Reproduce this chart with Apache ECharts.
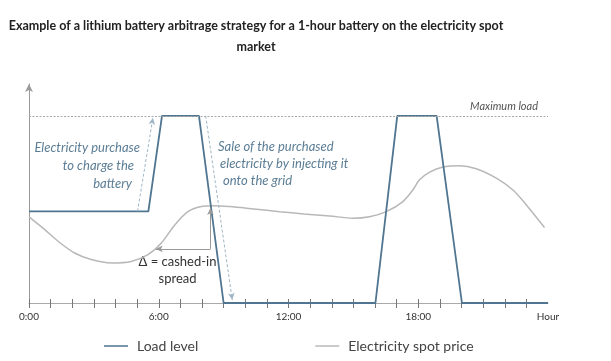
<!DOCTYPE html>
<html><head><meta charset="utf-8">
<script src="https://cdn.jsdelivr.net/npm/echarts@6/dist/echarts.min.js"></script>
<style>html,body{margin:0;padding:0;background:#fff}#c{width:611px;height:361px}</style>
</head><body><div id="c"></div>
<script>
// ---- data ----
const loadHours  = [0, 5.52, 6.15, 7.86, 9.0, 16.02, 17.03, 18.85, 20.02, 24];
const loadValues = [49, 49, 100, 100, 0, 0, 100, 100, 0, 0];
const priceHours  = [0, 0.73, 1.34, 2.11, 2.88, 3.81, 4.73, 5.50, 6.12, 6.74, 7.35, 7.97, 8.59, 9.28, 10.4, 11.59, 12.7, 13.9, 14.98, 15.75, 16.52, 17.29, 17.75, 18.06, 18.53, 19.14, 19.91, 20.68, 21.61, 22.38, 23.0, 23.84];
const priceValues = [46.0, 39.2, 33.0, 26.7, 23.2, 21.4, 22.2, 25.8, 32.0, 41.7, 48.8, 51.5, 52.0, 51.5, 50.2, 48.8, 47.6, 46.5, 45.3, 46.1, 48.8, 54.2, 60.4, 65.8, 69.9, 72.6, 73.3, 71.7, 66.7, 60.4, 52.4, 40.3];
const maxLoad = 100;
const tickHours = [0,1,2,3,4,5,6,7,8,9,10,11,12,13,14,15,16,17,18,19,20,21,22,23];
const labelHours = [0, 6, 12, 18, 24];
const labelTexts = ['0:00', '6:00', '12:00', '18:00', 'Hour'];
const seriesNames = ['Load level', 'Electricity spot price'];
// annotation arrows (hour, value)
const purchaseArrow = [[5.02, 49], [5.73, 99]];
const saleArrow = [[8.17, 100], [9.4, 1.6]];
const spreadUp = [[8.39, 28.9], [8.39, 50.8]];
const spreadLeft = [[8.39, 28.9], [5.86, 28.9]];

const zip = (a, b) => a.map((v, i) => [v, b[i]]);
const annColor = '#5b7d95';
const font = 'Lato, "Open Sans", sans-serif';

const chart = echarts.init(document.getElementById('c'), null, {renderer: 'canvas'});
const dashed = c => ({color: c, type: [3, 2], width: 1});
chart.setOption({
  animation: false,
  grid: {left: 29, right: 63, top: 84, bottom: 58},
  xAxis: [{
    type: 'value', min: 0, max: 24,
    axisLine: {lineStyle: {color: '#a9a9a9', width: 1}},
    axisTick: {show: true, inside: false, length: 5, lineStyle: {color: '#777'}, customValues: tickHours},
    axisLabel: {customValues: labelHours, formatter: v => labelTexts[labelHours.indexOf(v)] || '',
      fontSize: 10, color: '#333', fontFamily: font, margin: 9},
    splitLine: {show: false}
  }, {
    type: 'value', min: 0, max: 24, position: 'bottom',
    axisLine: {show: false},
    axisTick: {show: true, inside: true, length: 4, lineStyle: {color: '#777'}, customValues: tickHours},
    axisLabel: {show: false}, splitLine: {show: false}
  }],
  yAxis: {
    type: 'value', min: 0, max: 117,
    axisLine: {show: true, lineStyle: {color: '#9a9a9a'}, symbol: ['none', 'arrow'], symbolSize: [6, 8]},
    axisTick: {show: false}, axisLabel: {show: false}, splitLine: {show: false}
  },
  legend: {
    data: seriesNames, left: 99, top: 334, icon: 'rect', itemWidth: 24, itemHeight: 1.5, itemGap: 117,
    textStyle: {fontSize: 14, color: '#444', fontFamily: font, padding: [0, 0, 0, 4]}
  },
  series: [{
    name: seriesNames[1], type: 'line', data: zip(priceHours, priceValues), smooth: 0.3,
    symbol: 'none', lineStyle: {color: '#b8b8b8', width: 1.5}, itemStyle: {color: '#b8b8b8'}, z: 2
  }, {
    name: seriesNames[0], type: 'line', data: zip(loadHours, loadValues),
    symbol: 'none', lineStyle: {color: '#4f7590', width: 1.8}, itemStyle: {color: '#4f7590'}, z: 3,
    markLine: {
      silent: true, symbol: ['none', 'arrow'], symbolSize: [5, 7], label: {show: false},
      data: [
        [{coord: [0, maxLoad], symbol: 'none', lineStyle: {color: '#a8a8a8', type: [2, 1.5], width: 1}}, {coord: [24, maxLoad], symbol: 'none'}],
        [{coord: purchaseArrow[0], lineStyle: dashed('#9fb6c7')}, {coord: purchaseArrow[1]}],
        [{coord: saleArrow[0], lineStyle: dashed('#9fb6c7')}, {coord: saleArrow[1]}],
        [{coord: spreadUp[0], lineStyle: {color: '#9a9a9a', type: 'solid', width: 1}}, {coord: spreadUp[1]}],
        [{coord: spreadLeft[0], lineStyle: {color: '#9a9a9a', type: 'solid', width: 1}}, {coord: spreadLeft[1]}]
      ]
    }
  }],
  graphic: [
    {type: 'text', x: 256, y: 26, style: {text: 'Example of a lithium battery arbitrage strategy for a 1-hour battery on the electricity spot', font: 'bold 12.5px ' + font, fill: '#222', textAlign: 'center', textVerticalAlign: 'middle'}},
    {type: 'text', x: 256, y: 47, style: {text: 'market', font: 'bold 12.5px ' + font, fill: '#222', textAlign: 'center', textVerticalAlign: 'middle'}},
    {type: 'text', x: 140, y: 148, style: {text: 'Electricity purchase', font: 'italic 13px ' + font, fill: annColor, textAlign: 'right', textVerticalAlign: 'middle'}},
    {type: 'text', x: 134, y: 166, style: {text: 'to charge the', font: 'italic 13px ' + font, fill: annColor, textAlign: 'right', textVerticalAlign: 'middle'}},
    {type: 'text', x: 132, y: 184, style: {text: 'battery', font: 'italic 13px ' + font, fill: annColor, textAlign: 'right', textVerticalAlign: 'middle'}},
    {type: 'text', x: 218, y: 147, style: {text: 'Sale of the purchased', font: 'italic 13px ' + font, fill: annColor, textAlign: 'left', textVerticalAlign: 'middle'}},
    {type: 'text', x: 220, y: 164, style: {text: 'electricity by injecting it', font: 'italic 13px ' + font, fill: annColor, textAlign: 'left', textVerticalAlign: 'middle'}},
    {type: 'text', x: 223, y: 181, style: {text: 'onto the grid', font: 'italic 13px ' + font, fill: annColor, textAlign: 'left', textVerticalAlign: 'middle'}},
    {type: 'text', x: 538, y: 106, style: {text: 'Maximum load', font: 'italic 11px ' + font, fill: '#555', textAlign: 'right', textVerticalAlign: 'middle'}},
    {type: 'text', x: 177.5, y: 262, style: {text: '\u0394 = cashed-in', font: '13px ' + font, fill: '#333', textAlign: 'center', textVerticalAlign: 'middle'}},
    {type: 'text', x: 177.5, y: 279, style: {text: 'spread', font: '13px ' + font, fill: '#333', textAlign: 'center', textVerticalAlign: 'middle'}}
  ]
});
</script></body></html>
